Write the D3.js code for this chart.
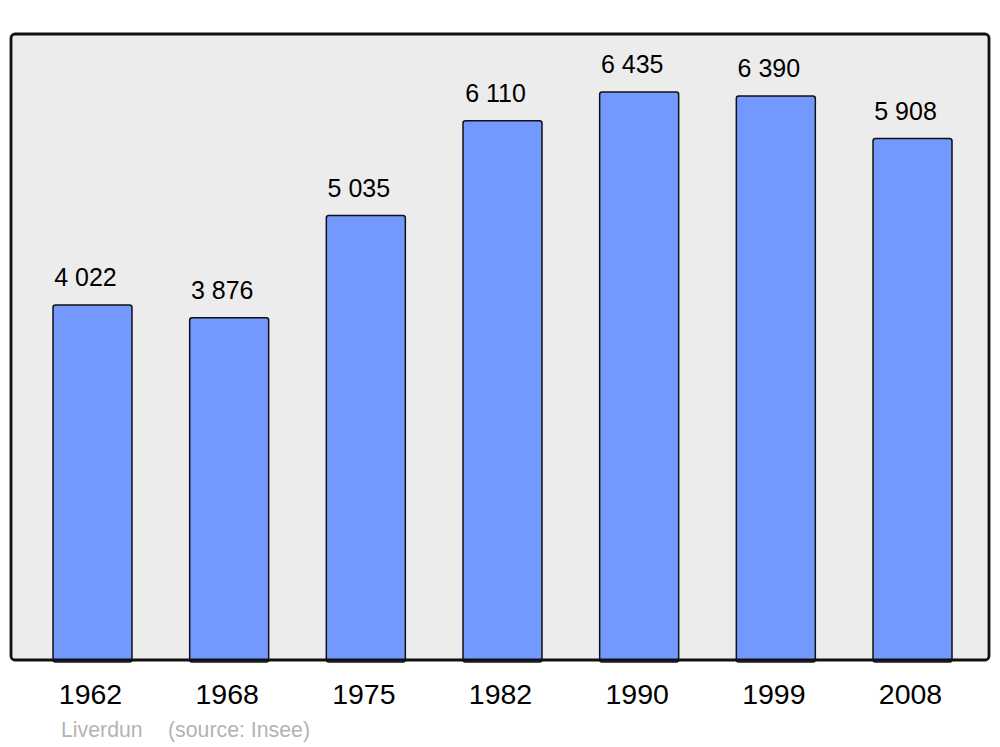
<!DOCTYPE html>
<html><head><meta charset="utf-8">
<script src="https://cdn.jsdelivr.net/npm/d3@7"></script>
<style>body{margin:0;background:#fff}svg{display:block}text{font-family:"Liberation Sans",Arial,sans-serif}</style>
</head><body>
<script>
const years = ["1962","1968","1975","1982","1990","1999","2008"];
const population = [4022, 3876, 5035, 6110, 6435, 6390, 5908];
const valueLabels = ["4 022","3 876","5 035","6 110","6 435","6 390","5 908"];
const footerTexts = ["Liverdun", "(source: Insee)"];

const W = 1000, H = 747;
const svg = d3.select("body").append("svg").attr("width", W).attr("height", H);

const panel = {x0: 11, x1: 989, y0: 34, y1: 660};
svg.append("rect").attr("x", panel.x0).attr("y", panel.y0)
  .attr("width", panel.x1 - panel.x0).attr("height", panel.y1 - panel.y0)
  .attr("rx", 4).attr("fill", "#ececec");

const x = d3.scaleBand().domain(years).range([12, 993]).paddingInner(0.422).paddingOuter(0.3);
const y = d3.scaleLinear().domain([0, 7092]).range([panel.y1, panel.y0]);

svg.append("g").selectAll("rect").data(population).join("rect")
  .attr("x", (d, i) => x(years[i]))
  .attr("y", d => y(d))
  .attr("width", x.bandwidth())
  .attr("height", d => y(0) - y(d) + 2)
  .attr("rx", 2.5)
  .attr("fill", "#7399ff").attr("stroke", "#111").attr("stroke-width", 1.5);

svg.append("rect").attr("x", panel.x0).attr("y", panel.y0)
  .attr("width", panel.x1 - panel.x0).attr("height", panel.y1 - panel.y0)
  .attr("rx", 4).attr("fill", "none").attr("stroke", "#111").attr("stroke-width", 2.8);

svg.append("g").selectAll("text").data(population).join("text")
  .attr("x", (d, i) => x(years[i]) + x.bandwidth() / 2 - 7)
  .attr("y", d => y(d) - 19)
  .attr("text-anchor", "middle").attr("font-size", 25).attr("fill", "#000")
  .text((d, i) => valueLabels[i]);

svg.append("g").selectAll("text").data(years).join("text")
  .attr("x", d => x(d) + x.bandwidth() / 2 - 2)
  .attr("y", 704)
  .attr("text-anchor", "middle").attr("font-size", 28.5).attr("fill", "#000")
  .text(d => d);

svg.append("text").attr("x", 61).attr("y", 737).attr("font-size", 21.3).attr("fill", "#b3b3b3").text(footerTexts[0]);
svg.append("text").attr("x", 168).attr("y", 737).attr("font-size", 21.3).attr("fill", "#b3b3b3").text(footerTexts[1]);
</script>
</body></html>
